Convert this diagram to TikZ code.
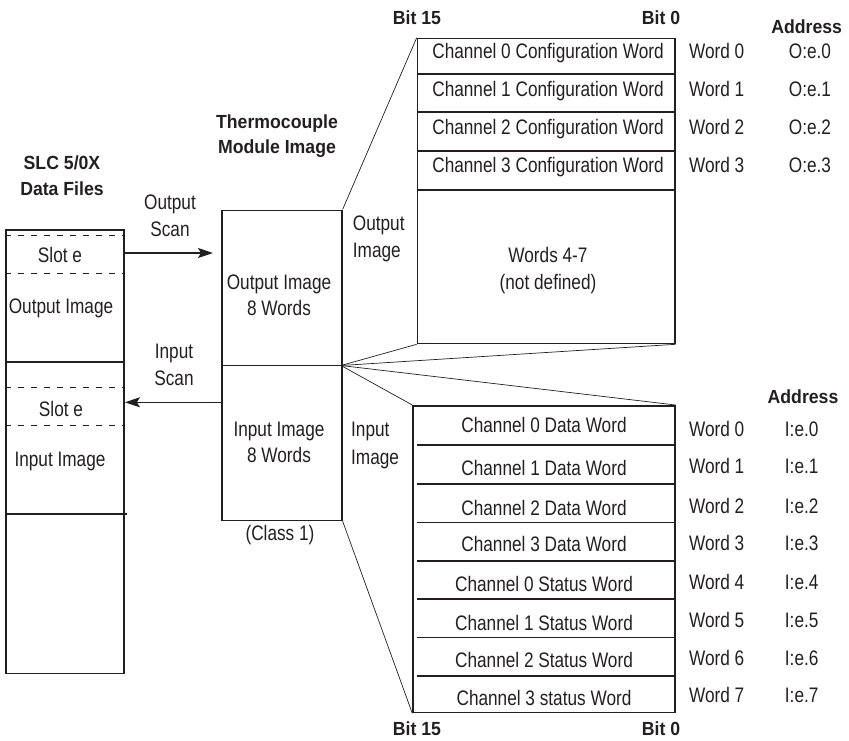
\documentclass[tikz,border=0pt]{standalone}
\usepackage{fontspec}
\setmainfont{Liberation Sans}[FakeStretch=0.82]
\newfontfamily\headfont{Liberation Sans}[FakeStretch=0.93]
\usetikzlibrary{arrows.meta,calc}
\definecolor{ink}{HTML}{231F20}
\begin{document}
\begin{tikzpicture}[x=1pt,y=-1pt,
  box/.style={draw=ink, line width=1.6pt, inner sep=0pt, anchor=north west},
  rule/.style={draw=ink, line width=1.6pt},
  fan/.style={draw=ink, line width=0.7pt},
  dashline/.style={draw=ink, line width=0.8pt, dash pattern=on 6pt off 7pt},
  arrowline/.style={draw=ink, line width=1.6pt, -{Stealth[length=15pt,width=10pt,inset=3pt]}},
  txt/.style={inner sep=0pt, text height=15pt, text depth=0pt, font=\fontsize{21}{23}\selectfont, text=ink},
  btxt/.style={inner sep=0pt, text height=13.6pt, text depth=0pt, font=\headfont\fontsize{19}{21}\selectfont\bfseries, text=ink},
  ltxt/.style={txt, anchor=west}]
\useasboundingbox (0,0) rectangle (849,741);

% ---------- boxes ----------
\node[box, minimum width=118pt, minimum height=443.4pt] (slc) at (5.3,229.3) {};
\node[box, minimum width=120pt, minimum height=310pt] (tc) at (221,209.5) {};
\node[box, minimum width=257.3pt, minimum height=305pt] (outtab) at (416.7,37.7) {};
\node[box, minimum width=261.7pt, minimum height=306.7pt] (intab) at (412.3,405) {};

% ---------- left column dividers ----------
\foreach \yy in {235,273.3,387.3,425.7}
  \draw[dashline] (5.3,\yy) -- (124.5,\yy);
\draw[rule] (5.3,361.7) -- (123.3,361.7);
\draw[rule] (5.3,514) -- (126.5,514);

% ---------- middle divider ----------
\draw[rule] (221,365.5) -- (341,365.5);

% ---------- output table rows ----------
\foreach \yy in {74,112.3,151,190}
  \draw[rule] (416.7,\yy) -- (674,\yy);

% ---------- input table rows ----------
\foreach \yy in {445,484,522.3,560.7,598.7,637.3,676}
  \draw[rule] (416.7,\yy) -- (674,\yy);

% ---------- fan lines ----------
\coordinate (apex) at (341,365.5);
\draw[fan] (tc.north east) -- (outtab.north west);
\draw[fan] (apex) -- (outtab.south west);
\draw[fan] (apex) -- (outtab.south east);
\draw[fan] (apex) -- (intab.north west);
\draw[fan] (apex) -- (intab.north east);
\draw[fan] (tc.south east) -- (intab.south west);

% ---------- scan arrows ----------
\coordinate (oscan) at (0,253);
\coordinate (iscan) at (0,402.3);
\draw[arrowline] (slc.east |- oscan) -- ([xshift=-8pt]tc.west |- oscan);
\draw[arrowline] (tc.west |- iscan) -- (slc.east |- iscan);

% ---------- titles ----------
\node[btxt] (t1) at (62,163) {SLC 5/0X};
\node[btxt] (t2) at (62,189) {Data Files};
\node[btxt] (t3) at (277,122) {Thermocouple};
\node[btxt] (t4) at (277,147) {Module Image};
\node[btxt] (b15a) at (417,18) {Bit 15};
\node[btxt] (b0a) at (661,18) {Bit 0};
\node[btxt] (adra) at (806.7,27) {Address};
\node[btxt] (b15b) at (417,729) {Bit 15};
\node[btxt] (b0b) at (661,729) {Bit 0};
\node[btxt] (adrb) at (803,397) {Address};

% ---------- left column text ----------
\node[txt] (s1) at (60,255) {Slot e};
\node[txt] (s2) at (61,306) {Output Image};
\node[txt] (s3) at (61,409) {Slot e};
\node[txt] (s4) at (60,459) {Input Image};

% ---------- scan labels ----------
\node[txt] (os1) at (170,202) {Output};
\node[txt] (os2) at (170,229) {Scan};
\node[txt] (is1) at (174,351) {Input};
\node[txt] (is2) at (174,378) {Scan};

% ---------- middle box text ----------
\node[txt] (m1) at (279,282) {Output Image};
\node[txt] (m2) at (279,308) {8 Words};
\node[txt] (m3) at (279,429) {Input Image};
\node[txt] (m4) at (279,455) {8 Words};
\node[txt] (m5) at (280,533) {(Class 1)};

% ---------- image labels ----------
\node[ltxt] (oi1) at (352.7,223) {Output};
\node[ltxt] (oi2) at (352.7,250) {Image};
\node[ltxt] (ii1) at (351,429) {Input};
\node[ltxt] (ii2) at (351,457) {Image};

% ---------- output table text ----------
\node[txt] (c0) at (548,51.5) {Channel 0 Configuration Word};
\node[txt] (c1) at (548,89) {Channel 1 Configuration Word};
\node[txt] (c2) at (548,127.5) {Channel 2 Configuration Word};
\node[txt] (c3) at (548,165) {Channel 3 Configuration Word};
\node[txt] (w47) at (548,255) {Words 4-7};
\node[txt] (nd) at (548,282) {(not defined)};

\foreach \i/\yy in {0/51.5,1/89,2/127.5,3/165}{
  \node[txt] (ow\i) at (716.7,\yy) {Word \i};
  \node[txt] (oa\i) at (810,\yy) {O:e.\i};
}

% ---------- input table text ----------
\node[txt] (d0) at (544,425) {Channel 0 Data Word};
\node[txt] (d1) at (544,468.3) {Channel 1 Data Word};
\node[txt] (d2) at (544,507.7) {Channel 2 Data Word};
\node[txt] (d3) at (544,544.3) {Channel 3 Data Word};
\node[txt] (st0) at (544,584) {Channel 0 Status Word};
\node[txt] (st1) at (544,623.3) {Channel 1 Status Word};
\node[txt] (st2) at (544,660) {Channel 2 Status Word};
\node[txt] (st3) at (544,698.3) {Channel 3 status Word};

\foreach \i/\yy in {0/429,1/466,2/505.7,3/542.7,4/581.7,5/620,6/658,7/695}{
  \node[txt] (iw\i) at (716.7,\yy) {Word \i};
  \node[txt] (ia\i) at (801.7,\yy) {I:e.\i};
}
\end{tikzpicture}
\end{document}
